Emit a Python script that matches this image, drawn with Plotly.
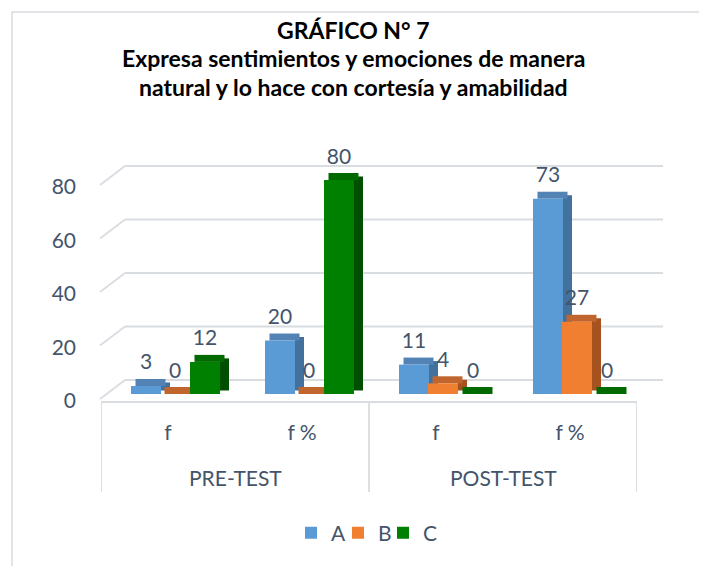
import plotly.graph_objects as go

# ---------------- data ----------------
groups = ["PRE-TEST", "PRE-TEST", "POST-TEST", "POST-TEST"]
categories = ["f", "f %", "f", "f %"]
series_names = ["A", "B", "C"]
values_A = [3, 20, 11, 73]
values_B = [0, 0, 4, 27]
values_C = [12, 80, 0, 0]
y_ticks = [0, 20, 40, 60, 80]
title_lines = [
    "GRÁFICO N° 7",
    "Expresa sentimientos y emociones de manera",
    "natural y lo hace con cortesía y amabilidad",
]

# ---------------- styling / geometry ----------------
W, H = 707, 566
PAGE_OFF = 8   # default body margin of the html page


def px(x):
    return (x - PAGE_OFF) / W


def py(y):
    return 1 - (y - PAGE_OFF) / H


FONT = "Lato"
TXT = "#44546A"
GRID = "#D9DCE1"
front_colors = ["#5B9BD5", "#F07F32", "#008000"]
cap_colors = ["#5383B5", "#C0652E", "#006A00"]
side_colors = ["#41719C", "#A5521F", "#004F00"]

X_LEFT, X_RIGHT = 101, 637          # front floor edge (px)
BACK_LEFT, BACK_RIGHT = 125, 663    # back wall (px)
Y_BOTTOM, Y_TOP = 401, 140          # y domain (px)
K = 2.675                            # px per y unit
BAR0 = 7                             # px: bars' zero above the front edge
CAT_PX = (X_RIGHT - X_LEFT) / len(categories)

bar_w = 30 / CAT_PX
depth_x = 9 / CAT_PX
depth_y = 7 / K
label_h = 2.5 / K
offsets = [-37 / CAT_PX, -8 / CAT_PX, 22 / CAT_PX]
legend_left = [291, 338, 383]        # px, left edge of each legend entry

xpos = list(range(len(categories)))
series_vals = [values_A, values_B, values_C]
legend_ids = ["legend", "legend2", "legend3"]

fig = go.Figure()
for i, (name, vals) in enumerate(zip(series_names, series_vals)):
    # side face
    fig.add_trace(go.Bar(
        x=xpos, y=vals, base=depth_y / 2, offset=offsets[i] + bar_w, width=depth_x,
        marker=dict(color=side_colors[i], line=dict(width=0)),
        showlegend=False, hoverinfo="skip"))
    # top face
    fig.add_trace(go.Bar(
        x=xpos, y=[depth_y] * len(vals), base=vals, offset=offsets[i] + depth_x / 2,
        width=bar_w, marker=dict(color=cap_colors[i], line=dict(width=0)),
        showlegend=False, hoverinfo="skip"))
    # front face
    fig.add_trace(go.Bar(
        x=xpos, y=vals, offset=offsets[i], width=bar_w, name=name,
        legend=legend_ids[i],
        customdata=[[g, c] for g, c in zip(groups, categories)],
        hovertemplate="%{customdata[0]} %{customdata[1]}: %{y}<extra>" + name + "</extra>",
        marker=dict(color=front_colors[i], line=dict(width=0))))

# data labels
for i, vals in enumerate(series_vals):
    fig.add_trace(go.Bar(
        x=xpos, y=[label_h] * len(vals), base=[v + depth_y for v in vals],
        offset=offsets[i], width=bar_w,
        marker=dict(color="rgba(0,0,0,0)", line=dict(width=0)),
        text=[str(v) for v in vals], textposition="outside",
        constraintext="none", cliponaxis=False,
        textfont=dict(family=FONT, size=21, color=TXT),
        showlegend=False, hoverinfo="skip"))

shapes = []
# grid lines on the back wall + perspective stubs
for v in y_ticks:
    shapes.append(dict(type="line", layer="below", xref="paper", yref="y",
                       ysizemode="pixel", yanchor=v, y0=14, y1=14,
                       x0=px(BACK_LEFT), x1=px(BACK_RIGHT),
                       line=dict(color=GRID, width=1.8)))
    shapes.append(dict(type="line", layer="below", xref="paper", yref="y",
                       ysizemode="pixel", yanchor=v, y0=-5, y1=14,
                       x0=px(X_LEFT - 1), x1=px(BACK_LEFT),
                       line=dict(color=GRID, width=1.8)))
# group dividers
bounds = [-0.5] + [i + 0.5 for i in range(len(groups) - 1) if groups[i] != groups[i + 1]] + [len(groups) - 0.5]
for b in bounds:
    shapes.append(dict(type="line", layer="below", xref="x", yref="paper",
                       x0=b, x1=b, y0=py(492), y1=py(Y_BOTTOM),
                       line=dict(color=GRID, width=1.8)))
# chart frame
shapes.append(dict(type="rect", layer="below", xref="paper", yref="paper",
                   x0=px(12), x1=1.1, y0=-0.1, y1=py(12),
                   line=dict(color=GRID, width=1.5)))

annotations = []
# group labels
seen = []
for g in groups:
    if g not in seen:
        seen.append(g)
for g in seen:
    idx = [i for i, gg in enumerate(groups) if gg == g]
    annotations.append(dict(text=g, x=sum(idx) / len(idx), xref="x",
                            y=py(477), yref="paper", yanchor="middle",
                            showarrow=False, borderpad=0, borderwidth=0,
                            font=dict(family=FONT, size=21, color=TXT)))
# title lines
for line, yc in zip(title_lines, [30.5, 58.5, 87]):
    annotations.append(dict(text="<b>" + line + "</b>", x=px(353), xref="paper",
                            y=py(yc), yref="paper", yanchor="middle",
                            xanchor="center", showarrow=False,
                            borderpad=0, borderwidth=0,
                            font=dict(family=FONT, size=23, color="#000000")))

y_min = -BAR0 / K
y_max = y_min + (Y_BOTTOM - Y_TOP) / K

legend_style = dict(orientation="h", xanchor="left", y=py(533), yanchor="middle",
                    font=dict(family=FONT, size=21, color=TXT),
                    itemwidth=30, bgcolor="rgba(0,0,0,0)", borderwidth=0)

fig.update_layout(
    width=W, height=H,
    margin=dict(l=0, r=0, t=0, b=0, autoexpand=False),
    paper_bgcolor="white", plot_bgcolor="rgba(0,0,0,0)",
    barmode="overlay",
    font=dict(family=FONT, color=TXT, size=21),
    xaxis=dict(domain=[px(X_LEFT), px(X_RIGHT)], range=[-0.5, 3.5],
               tickvals=xpos, ticktext=categories, automargin=False,
               showgrid=False, zeroline=False, showline=True,
               linecolor=GRID, linewidth=1.8, ticklabelstandoff=12,
               tickfont=dict(family=FONT, size=21, color=TXT)),
    yaxis=dict(domain=[py(Y_BOTTOM), py(Y_TOP)], range=[y_min, y_max],
               tickvals=y_ticks, showgrid=False, zeroline=False, showline=False,
               automargin=False, ticklabelshift=7, ticklabelstandoff=24,
               tickfont=dict(family=FONT, size=21, color=TXT)),
    legend=dict(x=px(legend_left[0]), **legend_style),
    legend2=dict(x=px(legend_left[1]), **legend_style),
    legend3=dict(x=px(legend_left[2]), **legend_style),
    shapes=shapes,
    annotations=annotations,
)

fig.write_html("out.html")
